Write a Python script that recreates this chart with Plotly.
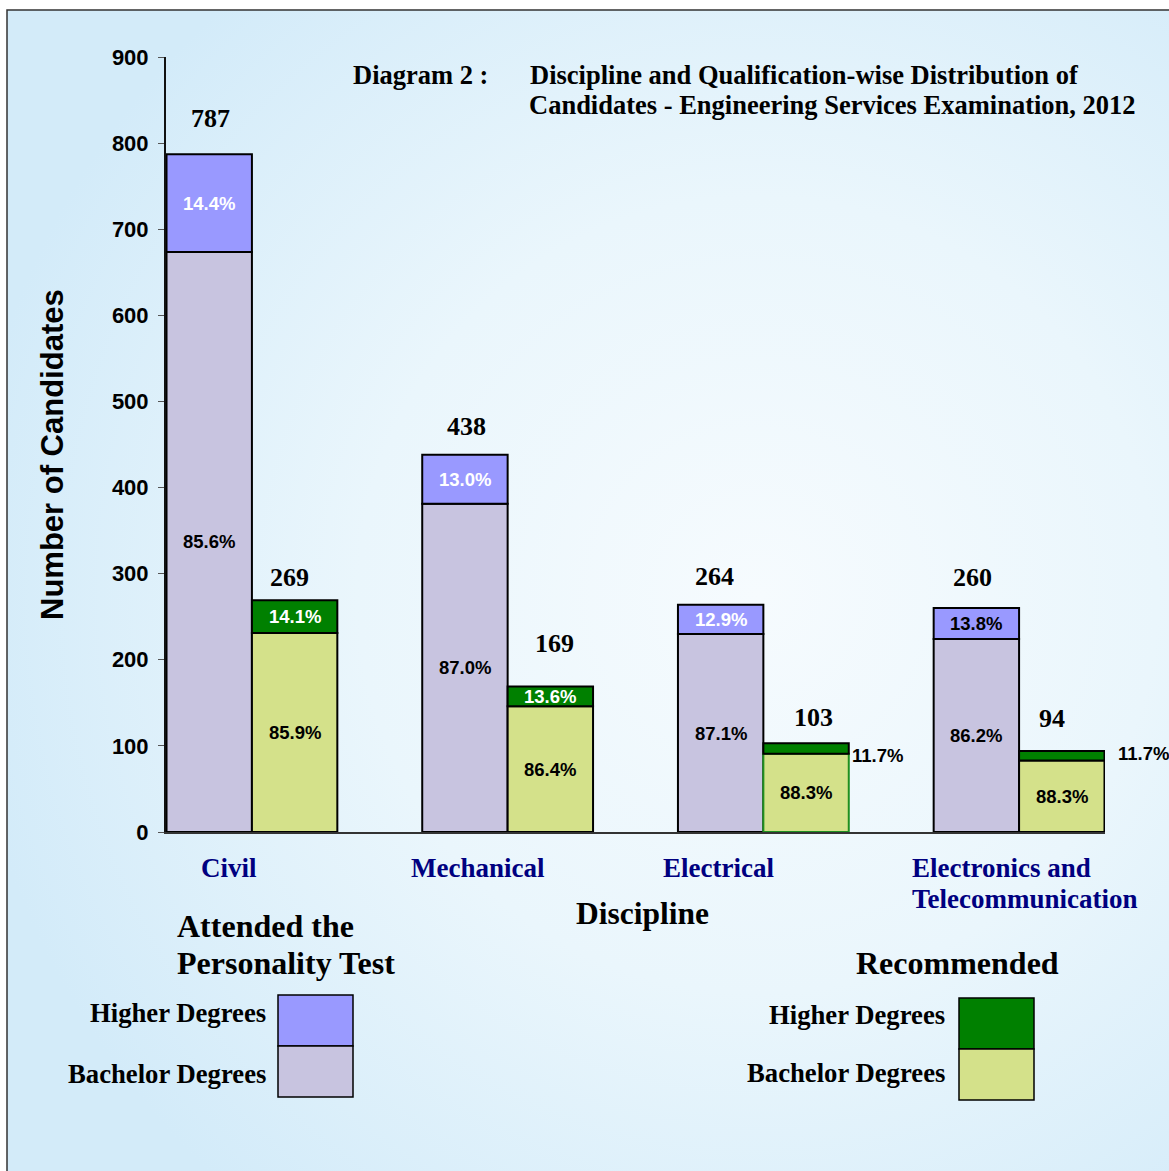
import base64
import plotly.graph_objects as go

# ---------------- data ----------------
disciplines = ["Civil", "Mechanical", "Electrical", "Electronics and Telecommunication"]
attended_total = [787, 438, 264, 260]
attended_higher_pct = [14.4, 13.0, 12.9, 13.8]
attended_bachelor_pct = [85.6, 87.0, 87.1, 86.2]
recommended_total = [269, 169, 103, 94]
recommended_higher_pct = [14.1, 13.6, 11.7, 11.7]
recommended_bachelor_pct = [85.9, 86.4, 88.3, 88.3]
y_ticks = [0, 100, 200, 300, 400, 500, 600, 700, 800, 900]

att_bach = [t * p / 100 for t, p in zip(attended_total, attended_bachelor_pct)]
att_high = [t - b for t, b in zip(attended_total, att_bach)]
rec_bach = [t * p / 100 for t, p in zip(recommended_total, recommended_bachelor_pct)]
rec_high = [t - b for t, b in zip(recommended_total, rec_bach)]

# ---------------- style / layout helpers ----------------
W, H = 1169, 1171
L, R, T, B = 166, 1105, 57, 832

# label offsets (px) as placed in the original artwork
att_total_shift = [(1, 36), (2, 28), (-6, 28), (-4, 31)]
rec_total_shift = [(-5, 23), (4, 43), (7, 26), (-10, 33)]
outside_pct_shift = {2: (87, -7), 3: (97, 2)}


def xp(px):
    return (px - L) / (R - L)


def yp(py):
    return (B - py) / (B - T)


SERIF = "Liberation Serif"
SANS = "Liberation Sans"
C_ATT_HIGH = "#9999ff"
C_ATT_BACH = "#c8c4e0"
C_REC_HIGH = "#008000"
C_REC_BACH = "#d4e18a"
NAVY = "#000080"

fig = go.Figure()
fig.add_trace(go.Bar(x=disciplines, y=att_bach, offsetgroup="A", marker=dict(color=C_ATT_BACH, line=dict(color="black", width=2)), name="Attended - Bachelor Degrees"))
fig.add_trace(go.Bar(x=disciplines, y=att_high, base=att_bach, offsetgroup="A", marker=dict(color=C_ATT_HIGH, line=dict(color="black", width=2)), name="Attended - Higher Degrees"))
fig.add_trace(go.Bar(x=disciplines, y=rec_bach, offsetgroup="R", marker=dict(color=C_REC_BACH, line=dict(color=["black", "black", "#1f8f1f", "black"], width=2)), name="Recommended - Bachelor Degrees"))
fig.add_trace(go.Bar(x=disciplines, y=rec_high, base=rec_bach, offsetgroup="R", marker=dict(color=C_REC_HIGH, line=dict(color="black", width=2)), name="Recommended - Higher Degrees"))

ann = []
half = 42.75  # half a bar, px
pct_font = dict(family=SANS, size=18.5, weight="bold")
tot_font = dict(family=SERIF, size=26, weight="bold", color="black")
for i, d in enumerate(disciplines):
    ann.append(dict(x=d, y=att_bach[i] / 2, xshift=-half, text=f"{attended_bachelor_pct[i]:.1f}%", showarrow=False, font=dict(pct_font, color="black")))
    ann.append(dict(x=d, y=att_bach[i] + att_high[i] / 2, xshift=-half, text=f"{attended_higher_pct[i]:.1f}%", showarrow=False, font=dict(pct_font, color="white" if i < 3 else "black")))
    ann.append(dict(x=d, y=rec_bach[i] / 2, xshift=half, text=f"{recommended_bachelor_pct[i]:.1f}%", showarrow=False, font=dict(pct_font, color="black")))
    if i in outside_pct_shift:
        dx, dy = outside_pct_shift[i]
        ann.append(dict(x=d, y=rec_bach[i] + rec_high[i] / 2, xshift=dx, yshift=dy, xanchor="left", text=f"{recommended_higher_pct[i]:.1f}%", showarrow=False, font=dict(pct_font, color="black")))
    else:
        ann.append(dict(x=d, y=rec_bach[i] + rec_high[i] / 2, xshift=half, text=f"{recommended_higher_pct[i]:.1f}%", showarrow=False, font=dict(pct_font, color="white")))
    ax, ay = att_total_shift[i]
    rx, ry = rec_total_shift[i]
    ann.append(dict(x=d, y=attended_total[i], xshift=-half + ax, yshift=ay, text=str(attended_total[i]), showarrow=False, font=tot_font))
    ann.append(dict(x=d, y=recommended_total[i], xshift=half + rx, yshift=ry, text=str(recommended_total[i]), showarrow=False, font=tot_font))


def ptext(px, py, text, size, color="black", xanchor="center", family=SERIF, angle=0):
    ann.append(dict(xref="paper", yref="paper", x=xp(px), y=yp(py), text=text, showarrow=False, xanchor=xanchor, yanchor="middle",
                    textangle=angle, font=dict(family=family, size=size, weight="bold", color=color), align="left"))


# title
ptext(351, 75, "Diagram 2 :", 26.5, xanchor="left")
ptext(528, 75, "Discipline and Qualification-wise Distribution of", 26.5, xanchor="left")
ptext(527, 105, "Candidates - Engineering Services Examination, 2012", 26.5, xanchor="left")
# y axis title
ptext(52, 455, "Number of Candidates", 31, family=SANS, angle=-90)
# category labels
ptext(229, 868, disciplines[0], 27, NAVY)
ptext(478, 868, disciplines[1], 27, NAVY)
ptext(718, 868, disciplines[2], 27, NAVY)
ptext(910, 868, "Electronics and", 27, NAVY, xanchor="left")
ptext(910, 899, "Telecommunication", 27, NAVY, xanchor="left")
# x axis title
ptext(642, 914, "Discipline", 31.5)
# legend titles
ptext(175, 926, "Attended the", 32, xanchor="left")
ptext(175, 963, "Personality Test", 32, xanchor="left")
ptext(957, 963, "Recommended", 32)
# legend labels
ptext(268, 1013, "Higher Degrees", 26.7, xanchor="right")
ptext(268, 1074, "Bachelor Degrees", 26.7, xanchor="right")
ptext(947, 1015, "Higher Degrees", 26.7, xanchor="right")
ptext(947, 1073, "Bachelor Degrees", 26.7, xanchor="right")

shapes = []


def swatch(x0, y0, x1, y1, color):
    shapes.append(dict(type="rect", xref="paper", yref="paper", x0=xp(x0), x1=xp(x1), y0=yp(y1), y1=yp(y0), fillcolor=color, line=dict(color="black", width=1.5)))


swatch(278, 995, 353, 1046, C_ATT_HIGH)
swatch(278, 1046, 353, 1097, C_ATT_BACH)
swatch(959, 998, 1034, 1049, C_REC_HIGH)
swatch(959, 1049, 1034, 1100, C_REC_BACH)
# frame
shapes.append(dict(type="rect", xref="paper", yref="paper", x0=xp(7), x1=xp(1180), y0=yp(1180), y1=yp(10), fillcolor="rgba(0,0,0,0)", line=dict(color="#333333", width=1.5), layer="below"))

svg = ('<svg xmlns="http://www.w3.org/2000/svg" width="1200" height="1200" viewBox="0 0 1200 1200" preserveAspectRatio="none">'
       '<defs><radialGradient id="g" cx="0.64" cy="0.5" r="0.68">'
       '<stop offset="0" stop-color="#f6fbfe"/><stop offset="0.5" stop-color="#eaf6fc"/><stop offset="1" stop-color="#d3ebf9"/></radialGradient></defs>'
       '<rect width="1200" height="1200" fill="url(#g)"/></svg>')
src = "data:image/svg+xml;base64," + base64.b64encode(svg.encode()).decode()

fig.update_layout(
    width=W, height=H,
    margin=dict(l=L, r=W - R, t=T, b=H - B, autoexpand=False),
    paper_bgcolor="white", plot_bgcolor="rgba(0,0,0,0)",
    barmode="group", bargap=0.332, bargroupgap=0,
    showlegend=False,
    annotations=ann, shapes=shapes,
    images=[dict(source=src, xref="paper", yref="paper", x=xp(7), y=yp(10), sizex=(1180 - 7) / (R - L), sizey=(1180 - 10) / (B - T), xanchor="left", yanchor="top", sizing="stretch", layer="below")],
    xaxis=dict(type="category", range=[-0.336, 3.336], showticklabels=False, ticks="", showgrid=False, zeroline=False,
               showline=True, linecolor="#333333", linewidth=1.5),
    yaxis=dict(range=[0, 900], tickvals=y_ticks, ticks="outside", ticklen=6, tickcolor="#555555", tickwidth=1,
               showline=True, linecolor="#111111", linewidth=2, showgrid=False, zeroline=False,
               tickfont=dict(family=SANS, size=22, weight="bold", color="black"), ticklabelstandoff=5),
)

fig.write_html("out.html")
